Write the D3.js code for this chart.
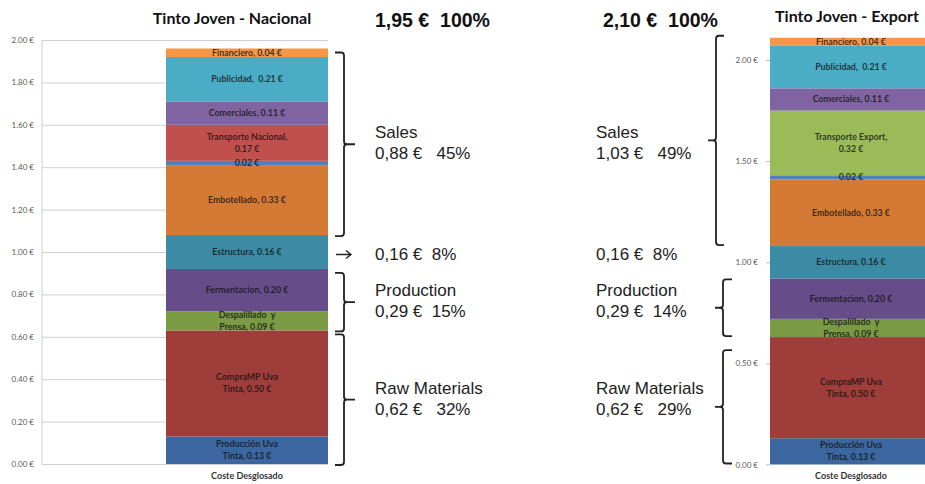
<!DOCTYPE html>
<html>
<head>
<meta charset="utf-8">
<script src="https://cdn.jsdelivr.net/npm/d3@7"></script>
<style>
  body { margin: 0; background: #fff; }
  svg { display: block; }
  .tick text { font-family: Lato, sans-serif; font-size: 8px; fill: #595959; }
  .seg-label { font-family: Lato, sans-serif; font-size: 8.8px; font-weight: bold; fill: #111; fill-opacity: 0.8; }
  .title { font-family: Lato, sans-serif; font-size: 16px; font-weight: bold; fill: #111; }
  .cat { font-family: Lato, sans-serif; font-size: 9px; font-weight: bold; fill: #333; }
  .sum { font-family: "Liberation Sans", Arial, sans-serif; font-size: 17px; fill: #222; white-space: pre; }
  .total { font-family: "Liberation Sans", Arial, sans-serif; font-size: 19.5px; font-weight: bold; fill: #111; white-space: pre; }
  .brace { fill: none; stroke: #222; stroke-width: 1.8; }
</style>
</head>
<body>
<div id="chart"></div>
<script>
var width = 925, height = 484;

// cost components, bottom to top
var colors = ["#3c669f", "#9e3d3a", "#7a9a44", "#664c88", "#3a8ba3", "#d47a34",
              "#4f81bd", "#c0504d", "#8064a2", "#4bacc6", "#f79646"];
var nacLabels = ["Producción Uva\nTinta, {v} €", "CompraMP Uva\nTinta, {v} €", "Despalillado  y\nPrensa, {v} €",
                 "Fermentacion, {v} €", "Estructura, {v} €", "Embotellado, {v} €", "{v} €",
                 "Transporte Nacional,\n{v} €", "Comerciales, {v} €", "Publicidad,  {v} €", "Financiero, {v} €"];
var nacValues = [0.13, 0.50, 0.09, 0.20, 0.16, 0.33, 0.02, 0.17, 0.11, 0.21, 0.04];
var expColors = ["#3c669f", "#9e3d3a", "#7a9a44", "#664c88", "#3a8ba3", "#d47a34",
                 "#4f81bd", "#9bbb59", "#8064a2", "#4bacc6", "#f79646"];
var expLabels = ["Producción Uva\nTinta, {v} €", "CompraMP Uva\nTinta, {v} €", "Despalillado  y\nPrensa, {v} €",
                 "Fermentacion, {v} €", "Estructura, {v} €", "Embotellado, {v} €", "{v} €",
                 "Transporte Export,\n{v} €", "Comerciales, {v} €", "Publicidad,  {v} €", "Financiero, {v} €"];
var expValues = [0.13, 0.50, 0.09, 0.20, 0.16, 0.33, 0.02, 0.32, 0.11, 0.21, 0.04];

var nacTicks = [0, 0.2, 0.4, 0.6, 0.8, 1.0, 1.2, 1.4, 1.6, 1.8, 2.0];
var expTicks = [0, 0.5, 1.0, 1.5, 2.0];

// summary groups: [first segment index, last segment index]
var groupNames = ["Sales", "", "Production", "Raw Materials"];
var groupRanges = [[5, 10], [4, 4], [2, 3], [0, 1]];
var nacAmounts = ["0,88 €", "0,16 €", "0,29 €", "0,62 €"];
var nacPct = ["45%", "8%", "15%", "32%"];
var expAmounts = ["1,03 €", "0,16 €", "0,29 €", "0,62 €"];
var expPct = ["49%", "8%", "14%", "29%"];
var nacGap = ["   ", "  ", "  ", "   "];
var expGap = ["   ", "  ", "  ", "   "];
var totals = ["1,95 €", "2,10 €"];

var svg = d3.select("#chart").append("svg")
  .attr("width", width).attr("height", height);

function stack(values) {
  var acc = 0;
  return values.map(function(v, i) {
    var d = {i: i, v: v, y0: acc, y1: acc + v};
    acc += v;
    return d;
  });
}

function drawBar(g, values, labels, cols, y, x) {
  var segs = stack(values);
  g.selectAll("rect.seg").data(segs).enter().append("rect")
    .attr("class", "seg")
    .attr("x", x("Coste Desglosado"))
    .attr("width", x.bandwidth())
    .attr("y", d => y(d.y1))
    .attr("height", d => y(d.y0) - y(d.y1))
    .style("fill", d => cols[d.i]);

  segs.forEach(function(d) {
    var lines = labels[d.i].replace("{v}", d3.format(".2f")(d.v)).split("\n");
    var cy = (y(d.y0) + y(d.y1)) / 2;
    var t = g.append("text").attr("class", "seg-label")
      .attr("text-anchor", "middle")
      .attr("x", x("Coste Desglosado") + x.bandwidth() / 2)
      .attr("y", cy + 3 - (lines.length - 1) * 6)
      .style("white-space", "pre");
    lines.forEach(function(l, k) {
      t.append("tspan").attr("x", x("Coste Desglosado") + x.bandwidth() / 2)
        .attr("dy", k == 0 ? 0 : 12).text(l);
    });
  });

  g.append("text").attr("class", "cat")
    .attr("text-anchor", "middle")
    .attr("x", x("Coste Desglosado") + x.bandwidth() / 2)
    .attr("y", 479)
    .text("Coste Desglosado");
  return segs;
}

// ---- left chart: Nacional
var yL = d3.scaleLinear().domain([0, 2]).range([464, 40]);
var xL = d3.scaleBand().domain(["Coste Desglosado"]).range([166, 328]);
var gL = svg.append("g");

gL.append("g")
  .attr("transform", "translate(42,0)")
  .call(d3.axisLeft(yL).tickValues(nacTicks).tickSize(-286).tickPadding(8)
        .tickFormat(d => d3.format(".2f")(d) + " €"))
  .call(g => g.select(".domain").remove())
  .call(g => g.selectAll(".tick line").style("stroke", "#d0d0d0"));
gL.append("line").attr("x1", 42).attr("x2", 42).attr("y1", yL(2)).attr("y2", yL(0))
  .style("stroke", "#d0d0d0");

var segsL = drawBar(gL, nacValues, nacLabels, colors, yL, xL);
gL.append("text").attr("class", "title").attr("text-anchor", "middle")
  .attr("x", 232).attr("y", 24).text("Tinto Joven - Nacional");

// ---- right chart: Export
var yR = d3.scaleLinear().domain([0, 2]).range([464.5, 60]);
var xR = d3.scaleBand().domain(["Coste Desglosado"]).range([770, 932]);
var gR = svg.append("g");
gR.append("g")
  .attr("transform", "translate(770,0)")
  .call(d3.axisLeft(yR).tickValues(expTicks).tickSize(4).tickPadding(8)
        .tickFormat(d => d3.format(".2f")(d) + " €"))
  .call(g => g.select(".domain").remove())
  .call(g => g.selectAll(".tick line").style("stroke", "#bbb"));
var segsR = drawBar(gR, expValues, expLabels, expColors, yR, xR);
gR.append("text").attr("class", "title").attr("text-anchor", "middle")
  .attr("x", 847).attr("y", 22).text("Tinto Joven - Export");

// ---- braces
function brace(x0, xv, xn, y0, y1, ym) {
  var r = 3, h = Math.sign(xv - x0), n = Math.sign(xn - xv);
  var p = d3.path();
  p.moveTo(x0, y0); p.lineTo(xv - h * r, y0);
  p.quadraticCurveTo(xv, y0, xv, y0 + r);
  p.lineTo(xv, ym - r);
  p.quadraticCurveTo(xv, ym, xv + n * r, ym);
  p.lineTo(xn, ym);
  p.moveTo(xv + n * r, ym);
  p.quadraticCurveTo(xv, ym, xv, ym + r);
  p.lineTo(xv, y1 - r);
  p.quadraticCurveTo(xv, y1, xv - h * r, y1);
  p.lineTo(x0, y1);
  return p.toString();
}

// right braces in the reference sit a bit lower than the segment tops
var rightTopShift = [-2, 0, 1, 13];

var mids = [];
groupRanges.forEach(function(rg, gi) {
  var top = yL(segsL[rg[1]].y1) + 4, bot = yL(segsL[rg[0]].y0) + 1;
  var mid = (top + bot) / 2;
  mids.push(mid);
  if (groupNames[gi] == "") {
    // arrow pointing at Estructura
    svg.append("path").attr("class", "brace").style("stroke-width", 1.4)
      .attr("d", "M336," + mid + "H351M346," + (mid - 4) + "L351," + mid + "L346," + (mid + 4));
    return;
  }
  svg.append("path").attr("class", "brace").attr("d", brace(335, 344, 355, top, bot, mid));

  var topR = yR(segsR[rg[1]].y1) + rightTopShift[gi], botR = yR(segsR[rg[0]].y0) - 1;
  if (gi == 0) {
    svg.append("path").attr("class", "brace").attr("d", brace(724, 716, 708, topR, botR, (topR + botR) / 2));
  } else {
    svg.append("path").attr("class", "brace").attr("d", brace(732, 723, 715, topR, botR, (topR + botR) / 2));
  }
});

// ---- summary texts
[[375, nacAmounts, nacPct, nacGap], [596, expAmounts, expPct, expGap]].forEach(function(s, si) {
  svg.append("text").attr("class", "total").attr("x", s[0] + (si == 0 ? 0 : 7)).attr("y", 27)
    .text(totals[si] + "  100%");
  groupNames.forEach(function(name, gi) {
    var mid = mids[gi];
    if (name == "") {
      svg.append("text").attr("class", "sum").attr("x", s[0]).attr("y", mid + 5)
        .text(s[1][gi] + s[3][gi] + s[2][gi]);
    } else {
      svg.append("text").attr("class", "sum").attr("x", s[0]).attr("y", mid - 6).text(name);
      svg.append("text").attr("class", "sum").attr("x", s[0]).attr("y", mid + 15)
        .text(s[1][gi] + s[3][gi] + s[2][gi]);
    }
  });
});
</script>
</body>
</html>
